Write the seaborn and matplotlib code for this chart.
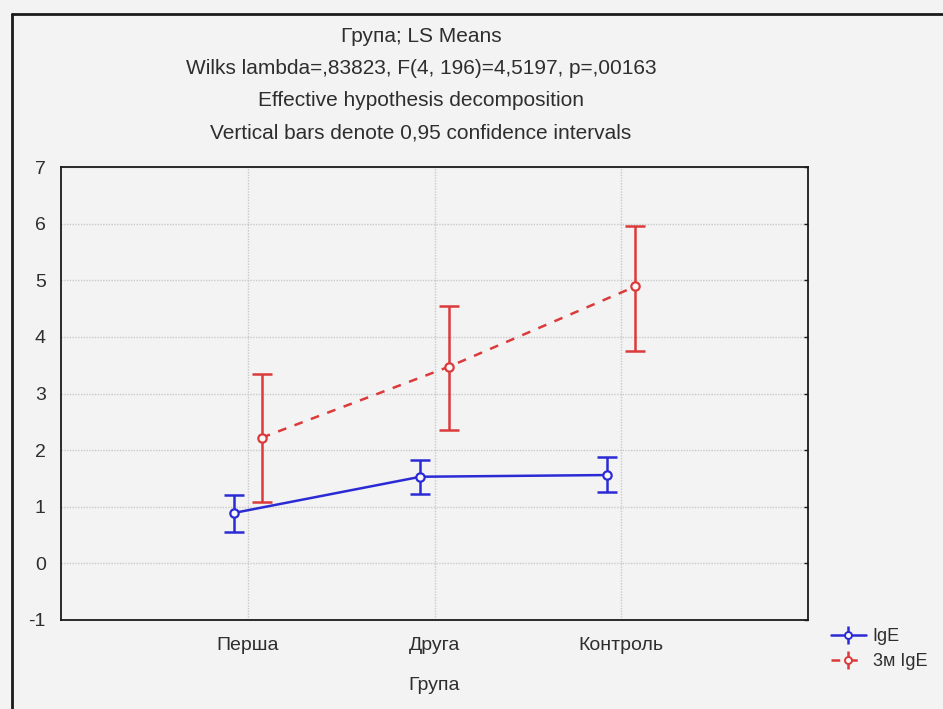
import numpy as np
import pandas as pd
import matplotlib
matplotlib.use("Agg")
import matplotlib.pyplot as plt
from matplotlib.lines import Line2D
import seaborn as sns

# Group means (LS means) with 0.95 confidence limits
groups = ["Перша", "Друга", "Контроль"]
ige_mean = [0.89, 1.53, 1.56]
ige_low = [0.55, 1.23, 1.26]
ige_high = [1.20, 1.83, 1.88]
ige3_mean = [2.22, 3.47, 4.89]
ige3_low = [1.08, 2.36, 3.75]
ige3_high = [3.35, 4.55, 5.96]
series_names = ["IgE", "3м IgE"]

title_lines = [
    "Група; LS Means",
    "Wilks lambda=,83823, F(4, 196)=4,5197, p=,00163",
    "Effective hypothesis decomposition",
    "Vertical bars denote 0,95 confidence intervals",
]
x_label = "Група"
y_ticks = [-1, 0, 1, 2, 3, 4, 5, 6, 7]

BG = "#f3f3f3"
TXT = "#2e2e2e"
BLUE = "#2b2bd6"
RED = "#dc3a3a"

sns.set_theme(style="white")
plt.rcParams["font.family"] = ["Liberation Sans", "DejaVu Sans"]
plt.rcParams["axes.unicode_minus"] = False

W, H = 943, 709
fig = plt.figure(figsize=(W / 100, H / 100), dpi=100, facecolor=BG)
ax = fig.add_axes([61 / W, 1 - 620 / H, (808 - 61) / W, (620 - 167) / H])
ax.set_facecolor(BG)

dodge = 0.075
pos = np.arange(len(groups))
rows = []
for name, means, lo, hi, off in [
    (series_names[0], ige_mean, ige_low, ige_high, -dodge),
    (series_names[1], ige3_mean, ige3_low, ige3_high, dodge),
]:
    for i in range(len(groups)):
        rows.append(dict(series=name, x=pos[i] + off, mean=means[i], low=lo[i], high=hi[i]))
df = pd.DataFrame(rows)

styles = {
    series_names[0]: dict(color=BLUE, ls="-"),
    series_names[1]: dict(color=RED, ls=(0, (3.5, 3.5))),
}

handles = []
for name, sub in df.groupby("series", sort=False):
    st = styles[name]
    sns.lineplot(data=sub, x="x", y="mean", ax=ax, color=st["color"], linestyle=st["ls"],
                 lw=1.8, marker="o", markersize=6, markerfacecolor="#f8f8f8",
                 markeredgecolor=st["color"], markeredgewidth=1.6, legend=False,
                 sort=False, errorbar=None, zorder=3)
    yerr = np.vstack([sub["mean"] - sub["low"], sub["high"] - sub["mean"]])
    ax.errorbar(sub["x"], sub["mean"], yerr=yerr, fmt="none", ecolor=st["color"],
                elinewidth=1.8, capsize=7, capthick=1.8, zorder=2)
    h = ax.errorbar([], [], yerr=[], fmt="o", linestyle=st["ls"], color=st["color"],
                    lw=1.8, markersize=5, markerfacecolor="#f8f8f8",
                    markeredgewidth=1.4, elinewidth=1.8, capsize=6, capthick=1.8,
                    label=name)
    handles.append(h)

ax.set_xlim(-1, 3)
ax.set_ylim(-1, 7)
ax.set_xticks(pos)
ax.set_xticklabels(groups)
ax.set_yticks(y_ticks)
ax.set_xlabel(x_label, fontsize=14, color=TXT, labelpad=17)
ax.set_ylabel("")

ax.grid(True, color="#c9c9c9", linestyle=(0, (1, 1)), linewidth=1.0)
ax.set_axisbelow(True)
for s in ax.spines.values():
    s.set_visible(True)
    s.set_color("#1a1a1a")
    s.set_linewidth(1.3)
ax.tick_params(axis="both", direction="in", length=3, width=1, color="#1a1a1a",
               labelsize=14, labelcolor=TXT)
ax.tick_params(axis="y", right=True, pad=11)
ax.tick_params(axis="x", pad=12)

for i, line in enumerate(title_lines):
    fig.text(421 / W, 1 - (37 + 32 * i) / H, line, ha="center", va="center",
             fontsize=15, color=TXT)

leg = fig.legend(handles=handles, labels=series_names, loc="upper left",
                 bbox_to_anchor=(815 / W, 1 - 612 / H), frameon=False,
                 fontsize=13, handlelength=1.9, handletextpad=0.4,
                 labelspacing=0.45, labelcolor=TXT)

# outer panel frame
fig.add_artist(Line2D([12 / W, 12 / W], [0, 1 - 14 / H], color="#1a1a1a", lw=2,
                      transform=fig.transFigure))
fig.add_artist(Line2D([12 / W, 1], [1 - 14 / H, 1 - 14 / H], color="#1a1a1a", lw=2,
                      transform=fig.transFigure))

fig.savefig("out.png", dpi=100, facecolor=BG)
